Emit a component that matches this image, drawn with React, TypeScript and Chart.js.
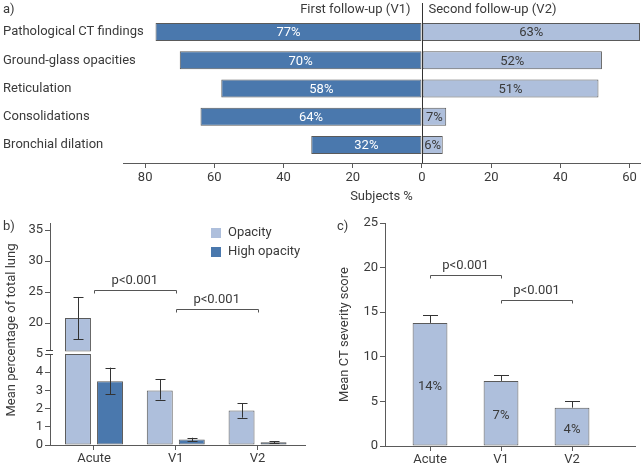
import React, { useEffect, useRef } from 'react';
import { Chart, registerables } from 'chart.js';

Chart.register(...registerables);

const FONT = 'Roboto, "DejaVu Sans", sans-serif';
const TEXT = '#3a3a3a';
const EDGE = '#5a5a5a';
const DARK = '#4a78ad';
const LIGHT = '#aebfdc';

Chart.defaults.font.family = FONT;
Chart.defaults.color = TEXT;

// ---------- Panel a ----------
const findings = [
  'Pathological CT findings',
  'Ground-glass opacities',
  'Reticulation',
  'Consolidations',
  'Bronchial dilation',
];
const firstFollowUp = [77, 70, 58, 64, 32];
const secondFollowUp = [63, 52, 51, 7, 6];
const subjectTicks = [-80, -60, -40, -20, 0, 20, 40, 60];

// ---------- Panel b ----------
const timepoints = ['Acute', 'V1', 'V2'];
const opacity = [20.8, 3.0, 1.9];
const opacityErrLow = [17.4, 2.5, 1.5];
const opacityErrHigh = [24.2, 3.6, 2.3];
const highOpacity = [3.5, 0.3, 0.15];
const highOpacityErrLow = [2.8, 0.2, 0.1];
const highOpacityErrHigh = [4.25, 0.4, 0.2];
const lowTicks = [0, 1, 2, 3, 4, 5];
const highTicks = [20, 25, 30, 35];
const LOW_MAX = 5;
const HIGH_MIN = 15;
const bracketsB = [
  { from: 0, to: 1, level: 25.3 },
  { from: 1, to: 2, level: 22.2 },
];

// ---------- Panel c ----------
const severity = [13.8, 7.3, 4.3];
const severityErrHigh = [14.7, 8.0, 5.0];
const severityLabels = ['14%', '7%', '4%'];
const severityTicks = [0, 5, 10, 15, 20, 25];
const bracketsC = [
  { from: 0, to: 1, level: 19.2 },
  { from: 1, to: 2, level: 16.4 },
];
const P_TEXT = 'p<0.001';

const font = (size: number) => `${size}px ${FONT}`;

function text(ctx: CanvasRenderingContext2D, s: string, x: number, y: number, align: CanvasTextAlign = 'left', color = TEXT, size = 13) {
  ctx.save();
  ctx.fillStyle = color;
  ctx.font = font(size);
  ctx.textAlign = align;
  ctx.textBaseline = 'middle';
  ctx.fillText(s, x, y);
  ctx.restore();
}

function line(ctx: CanvasRenderingContext2D, pts: number[][], color = '#333') {
  ctx.save();
  ctx.strokeStyle = color;
  ctx.lineWidth = 1;
  ctx.beginPath();
  pts.forEach(([x, y], i) => (i === 0 ? ctx.moveTo(x, y) : ctx.lineTo(x, y)));
  ctx.stroke();
  ctx.restore();
}

const crisp = (v: number) => Math.round(v) + 0.5;

function errorBar(ctx: CanvasRenderingContext2D, x: number, yTop: number, yBottom: number, cap: number) {
  const cx = crisp(x);
  line(ctx, [[cx, yTop], [cx, yBottom]], '#333');
  line(ctx, [[cx - cap / 2, crisp(yTop)], [cx + cap / 2, crisp(yTop)]], '#333');
  line(ctx, [[cx - cap / 2, crisp(yBottom)], [cx + cap / 2, crisp(yBottom)]], '#333');
}

function bracket(ctx: CanvasRenderingContext2D, x1: number, x2: number, y: number) {
  const yy = crisp(y);
  line(ctx, [[crisp(x1), yy + 3], [crisp(x1), yy], [crisp(x2), yy], [crisp(x2), yy + 3]], '#555');
  text(ctx, P_TEXT, (x1 + x2) / 2, yy - 10, 'center');
}

const fixedTicks = (values: number[]) => (ax: any) => {
  ax.ticks = values.map((value) => ({ value }));
};

// ---------- plugins ----------
const pluginA = {
  id: 'panelA',
  afterDatasetsDraw(chart: any) {
    const ctx = chart.ctx as CanvasRenderingContext2D;
    const area = chart.chartArea;
    const yScale = chart.scales.y;
    const zx = crisp(chart.scales.x.getPixelForValue(0));
    line(ctx, [[zx, area.top], [zx, area.bottom]], '#333');
    const m0 = chart.getDatasetMeta(0);
    const m1 = chart.getDatasetMeta(1);
    findings.forEach((name, i) => {
      text(ctx, name, 3, yScale.getPixelForValue(i), 'left');
    });
    firstFollowUp.forEach((v, i) => {
      const el = m0.data[i];
      text(ctx, `${v}%`, (el.x + el.base) / 2, el.y + 1, 'center', '#ffffff');
    });
    secondFollowUp.forEach((v, i) => {
      const el = m1.data[i];
      text(ctx, `${v}%`, (el.x + el.base) / 2, el.y + 1, 'center', TEXT);
    });
    text(ctx, 'First follow-up (V1)', zx - 12, 10, 'right');
    text(ctx, 'Second follow-up (V2)', zx + 6, 10, 'left');
    text(ctx, 'a)', 3, 10, 'left');
  },
};

const pluginB = {
  id: 'panelB',
  afterDatasetsDraw(chart: any) {
    const ctx = chart.ctx as CanvasRenderingContext2D;
    const { x, yLow, yHigh } = chart.scales;
    const area = chart.chartArea;
    const pick = (v: number) => (v > LOW_MAX ? yHigh : yLow);
    const m0 = chart.getDatasetMeta(0);
    const m2 = chart.getDatasetMeta(2);
    opacity.forEach((_, i) => {
      const lo = opacityErrLow[i];
      const hi = opacityErrHigh[i];
      errorBar(ctx, m0.data[i].x, pick(hi).getPixelForValue(hi), pick(lo).getPixelForValue(lo), 10);
    });
    highOpacity.forEach((_, i) => {
      const lo = highOpacityErrLow[i];
      const hi = highOpacityErrHigh[i];
      errorBar(ctx, m2.data[i].x, yLow.getPixelForValue(hi), yLow.getPixelForValue(lo), 10);
    });
    // axis break
    const y0 = Math.round(yLow.top);
    const ax = area.left;
    ctx.save();
    ctx.fillStyle = '#ffffff';
    ctx.fillRect(ax - 2, y0 - 3, 4, 3);
    ctx.restore();
    line(ctx, [[ax - 4, y0 - 3.5], [ax + 3, y0 - 3.5]], '#444');
    line(ctx, [[ax - 4, y0 + 0.5], [ax + 3, y0 + 0.5]], '#444');
    // brackets
    bracketsB.forEach((b) => bracket(ctx, x.getPixelForValue(b.from), x.getPixelForValue(b.to), yHigh.getPixelForValue(b.level)));
    // legend
    const lx = area.right - 94;
    const ly = area.top + 5;
    ctx.save();
    ctx.fillStyle = LIGHT;
    ctx.fillRect(lx, ly, 10, 10);
    ctx.fillStyle = DARK;
    ctx.fillRect(lx, ly + 19, 10, 10);
    ctx.restore();
    text(ctx, 'Opacity', lx + 17, ly + 5);
    text(ctx, 'High opacity', lx + 17, ly + 24);
    // y title
    ctx.save();
    ctx.translate(12, (area.top + area.bottom) / 2 - 4);
    ctx.rotate(-Math.PI / 2);
    text(ctx, 'Mean percentage of total lung', 0, 0, 'center');
    ctx.restore();
    text(ctx, 'b)', 3, 22, 'left');
  },
};

const pluginC = {
  id: 'panelC',
  afterDatasetsDraw(chart: any) {
    const ctx = chart.ctx as CanvasRenderingContext2D;
    const { x, y } = chart.scales;
    const m0 = chart.getDatasetMeta(0);
    severity.forEach((_, i) => {
      const el = m0.data[i];
      const cx = crisp(el.x);
      const top = crisp(y.getPixelForValue(severityErrHigh[i]));
      line(ctx, [[cx, el.y], [cx, top]], '#333');
      line(ctx, [[cx - 7.5, top], [cx + 7.5, top]], '#333');
      text(ctx, severityLabels[i], el.x, (el.y + el.base) / 2 + 3, 'center');
    });
    bracketsC.forEach((b) => bracket(ctx, x.getPixelForValue(b.from), x.getPixelForValue(b.to), y.getPixelForValue(b.level)));
    text(ctx, 'c)', 17, 22, 'left');
  },
};

const tickFont = { size: 13 };
const axisGrid = { drawOnChartArea: false, tickLength: 5, tickColor: EDGE, offset: false };
const axisBorder = { color: EDGE, width: 1 };

function configA(): any {
  const barStyle = { borderColor: EDGE, borderWidth: 1, borderSkipped: false, grouped: false, categoryPercentage: 1, barPercentage: 0.64 };
  return {
    type: 'bar',
    data: {
      labels: findings.map((_, i) => i),
      datasets: [
        { ...barStyle, data: firstFollowUp.map((v) => -v), backgroundColor: DARK },
        { ...barStyle, data: secondFollowUp, backgroundColor: LIGHT },
      ],
    },
    options: {
      indexAxis: 'y',
      animation: false,
      responsive: false,
      layout: { padding: { left: 3, right: 3, top: 3, bottom: 0 } },
      plugins: { legend: { display: false }, tooltip: { enabled: false } },
      scales: {
        x: {
          type: 'linear',
          min: -86.4,
          max: 63,
          afterBuildTicks: fixedTicks(subjectTicks),
          afterFit: (ax: any) => { ax.height = 47; },
          ticks: { autoSkip: false, maxRotation: 0, callback: (v: number) => String(Math.abs(v)), font: tickFont, color: TEXT, padding: 2 },
          grid: axisGrid,
          border: axisBorder,
          title: { display: true, text: 'Subjects %', font: { size: 13 }, color: TEXT, padding: { top: 4, bottom: 5 } },
        },
        y: {
          type: 'linear',
          offset: false,
          reverse: true,
          min: -1.03,
          max: 4.64,
          afterBuildTicks: fixedTicks(findings.map((_, i) => i)),
          afterFit: (ax: any) => { ax.width = 120; },
          ticks: { display: false },
          grid: { display: false, offset: false },
          border: { display: false },
        },
      },
    },
    plugins: [pluginA],
  };
}

function configB(): any {
  const barStyle = { borderColor: EDGE, borderWidth: 1, borderSkipped: false, categoryPercentage: 0.783, barPercentage: 0.81 };
  const yCommon = {
    type: 'linear',
    position: 'left',
    stack: 'b',
    stacked: false,
    afterFit: (ax: any) => { ax.width = 50; },
    ticks: { autoSkip: false, font: tickFont, color: TEXT, padding: 2 },
    grid: axisGrid,
    border: axisBorder,
  };
  return {
    type: 'bar',
    data: {
      labels: timepoints.map((_, i) => i),
      datasets: [
        { ...barStyle, label: 'Opacity', data: opacity.map((v) => Math.min(v, LOW_MAX)), yAxisID: 'yLow', stack: 'op', backgroundColor: LIGHT },
        { ...barStyle, label: 'Opacity', data: opacity.map((v) => (v > LOW_MAX ? v : null)), yAxisID: 'yHigh', stack: 'op', base: HIGH_MIN + 0.4, backgroundColor: LIGHT },
        { ...barStyle, label: 'High opacity', data: highOpacity, yAxisID: 'yLow', stack: 'hi', backgroundColor: DARK },
      ],
    },
    options: {
      animation: false,
      responsive: false,
      layout: { padding: { left: 0, right: 15, top: 18, bottom: 0 } },
      plugins: { legend: { display: false }, tooltip: { enabled: false } },
      scales: {
        x: {
          type: 'linear',
          offset: false,
          min: -0.538,
          max: 2.58,
          afterBuildTicks: fixedTicks(timepoints.map((_, i) => i)),
          afterFit: (ax: any) => { ax.height = 22; },
          ticks: { autoSkip: false, maxRotation: 0, callback: (v: number) => timepoints[v] ?? '', font: tickFont, color: TEXT, padding: 1 },
          grid: axisGrid,
          border: axisBorder,
        },
        yHigh: {
          ...yCommon,
          weight: 1,
          stackWeight: 131,
          min: HIGH_MIN,
          max: 36.13,
          afterBuildTicks: fixedTicks(highTicks),
        },
        yLow: {
          ...yCommon,
          weight: 0,
          stackWeight: 91,
          min: 0,
          max: LOW_MAX,
          afterBuildTicks: fixedTicks(lowTicks),
        },
      },
    },
    plugins: [pluginB],
  };
}

function configC(): any {
  return {
    type: 'bar',
    data: {
      labels: timepoints.map((_, i) => i),
      datasets: [
        { data: severity, backgroundColor: LIGHT, borderColor: EDGE, borderWidth: 1, borderSkipped: false, categoryPercentage: 1, barPercentage: 0.49 },
      ],
    },
    options: {
      animation: false,
      responsive: false,
      layout: { padding: { left: 13, right: 8, top: 18, bottom: 0 } },
      plugins: { legend: { display: false }, tooltip: { enabled: false } },
      scales: {
        x: {
          type: 'linear',
          offset: false,
          min: -0.634,
          max: 2.887,
          afterBuildTicks: fixedTicks(timepoints.map((_, i) => i)),
          afterFit: (ax: any) => { ax.height = 21; },
          ticks: { autoSkip: false, maxRotation: 0, callback: (v: number) => timepoints[v] ?? '', font: tickFont, color: TEXT, padding: 1 },
          grid: axisGrid,
          border: axisBorder,
        },
        y: {
          type: 'linear',
          min: 0,
          max: 25,
          afterBuildTicks: fixedTicks(severityTicks),
          afterFit: (ax: any) => { ax.width = 52; },
          ticks: { autoSkip: false, font: tickFont, color: TEXT, padding: 2 },
          grid: axisGrid,
          border: axisBorder,
          title: { display: true, text: 'Mean CT severity score', font: { size: 13 }, color: TEXT, padding: { top: 4, bottom: 0 } },
        },
      },
    },
    plugins: [pluginC],
  };
}

export default function App() {
  const aRef = useRef<HTMLCanvasElement>(null);
  const bRef = useRef<HTMLCanvasElement>(null);
  const cRef = useRef<HTMLCanvasElement>(null);

  useEffect(() => {
    const charts = [
      new Chart(aRef.current as HTMLCanvasElement, configA()),
      new Chart(bRef.current as HTMLCanvasElement, configB()),
      new Chart(cRef.current as HTMLCanvasElement, configC()),
    ];
    return () => charts.forEach((c) => c.destroy());
  }, []);

  return (
    <div style={{ position: 'absolute', left: 0, top: 0, width: 643, height: 467, background: '#ffffff', overflow: 'hidden' }}>
      <canvas ref={aRef} width={643} height={210} style={{ position: 'absolute', left: 0, top: 0, width: 643, height: 210 }} />
      <canvas ref={bRef} width={320} height={262} style={{ position: 'absolute', left: 0, top: 205, width: 320, height: 262 }} />
      <canvas ref={cRef} width={323} height={262} style={{ position: 'absolute', left: 320, top: 205, width: 323, height: 262 }} />
    </div>
  );
}
